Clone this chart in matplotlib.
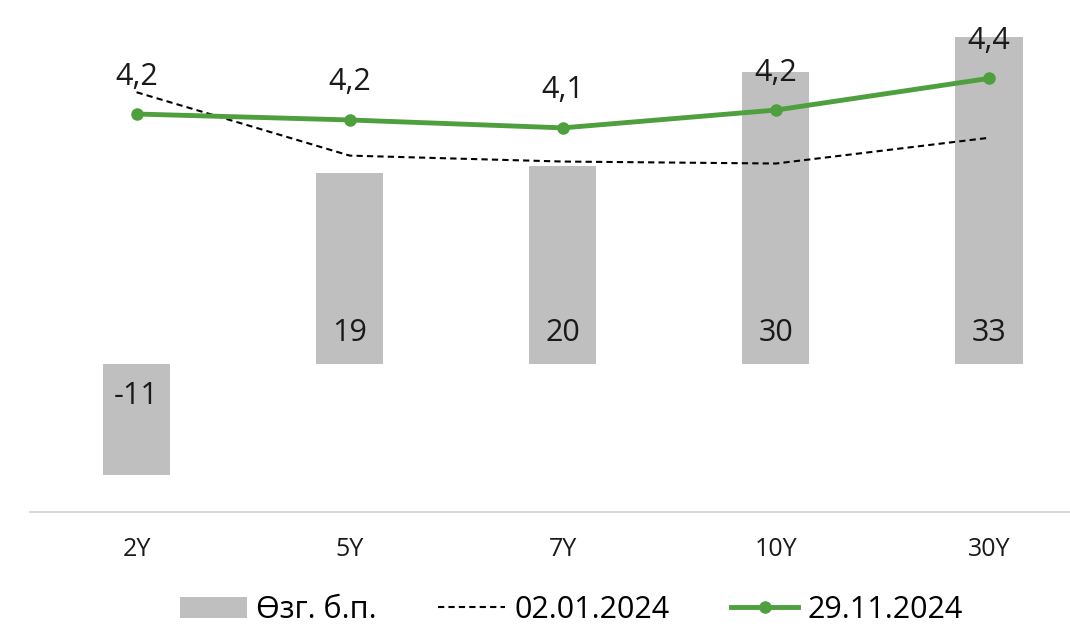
import matplotlib
matplotlib.use('Agg')
import matplotlib.pyplot as plt
import matplotlib.patches as mpatches
from matplotlib.lines import Line2D
import numpy as np

plt.rcParams['font.family'] = ['Open Sans', 'DejaVu Sans']

# ── data ──
tenors = ['2Y', '5Y', '7Y', '10Y', '30Y']
change_bp = [-11.3, 19.4, 20.1, 29.6, 33.2]       # Өзг. б.п. (bars)
yield_0201 = [4.32, 4.00, 3.97, 3.96, 4.09]       # 02.01.2024 (dashed)
yield_2911 = [4.21, 4.18, 4.14, 4.23, 4.39]       # 29.11.2024 (green)

Gray = '#BFBFBF'
Green = '#4E9F3D'
Black = '#000000'
Text = '#1A1A1A'

fig = plt.figure(figsize=(10.7, 6.29), dpi=100)
ax = fig.add_axes([30 / 1070, 1 - 512 / 629, 1040 / 1070, 495 / 629])
ax2 = ax.twinx()

x = np.arange(len(tenors))

# bars (change, bp)
ax.bar(x, change_bp, width=0.315, color=Gray, zorder=2)
ax.set_ylim(-15.03, 35.22)
for xi, v in zip(x, change_bp):
    off = 22 if v >= 0 else -23
    ax.annotate(f'{v:.0f}', xy=(xi, 0), xytext=(0, off), textcoords='offset points',
                ha='center', va='center', fontsize=22, color=Text)

# lines (yields)
ax2.plot(x, yield_0201, color=Black, linewidth=1.5, linestyle=(0, (3, 2)), zorder=3)
ax2.plot(x, yield_2911, color=Green, linewidth=3.5, marker='o', markersize=8, zorder=4)
ax2.set_ylim(2.2, 4.7)
for xi, v in zip(x, yield_2911):
    ax2.annotate(f'{v:.1f}'.replace('.', ','), xy=(xi, v), xytext=(0, 27),
                 textcoords='offset points', ha='center', va='center',
                 fontsize=22, color=Text)

ax.set_xlim(-0.5, 4.38)
ax.set_xticks(x)
ax.set_xticklabels(tenors)
ax.tick_params(axis='x', length=0, pad=18, labelsize=18, labelcolor=Text)
ax.set_yticks([])
ax2.set_yticks([])
for a in (ax, ax2):
    for s in ('top', 'right', 'left', 'bottom'):
        a.spines[s].set_visible(False)
ax.spines['bottom'].set_visible(True)
ax.spines['bottom'].set_color('#D9D9D9')
ax.spines['bottom'].set_linewidth(1.5)

handles = [
    mpatches.Patch(facecolor=Gray, edgecolor='none'),
    Line2D([], [], color=Black, linewidth=1.5, linestyle=(0, (3, 2))),
    Line2D([], [], color=Green, linewidth=3.5, marker='o', markersize=8),
]
labels = ['Өзг. б.п.', '02.01.2024', '29.11.2024']
fig.legend(handles, labels, loc='center', bbox_to_anchor=(0.534, 1 - 610 / 629),
           ncol=3, frameon=False, fontsize=22, handlelength=2.2,
           handletextpad=0.3, columnspacing=2.0, borderaxespad=0)

fig.savefig('out.png', dpi=100)
